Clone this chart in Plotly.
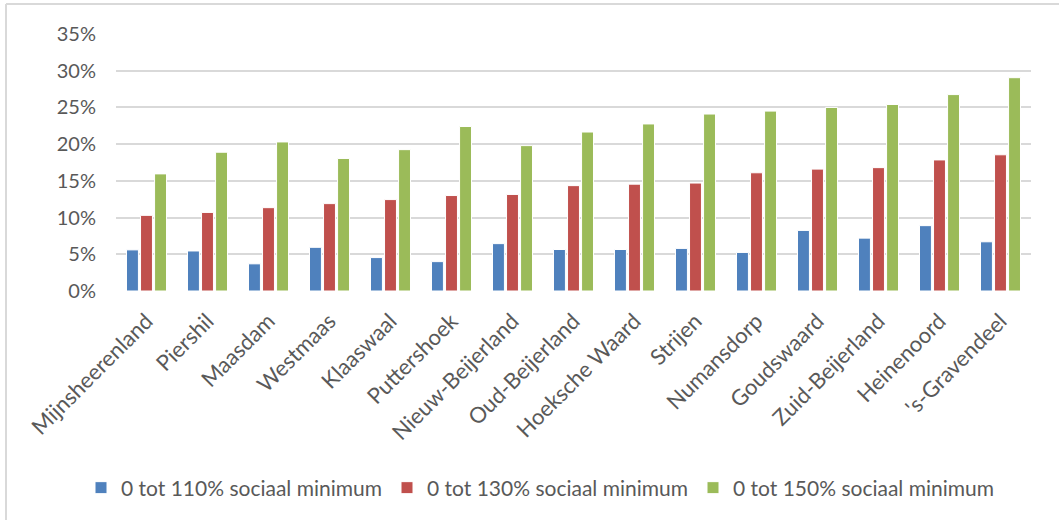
import plotly.graph_objects as go

categories = ["Mijnsheerenland", "Piershil", "Maasdam", "Westmaas", "Klaaswaal",
              "Puttershoek", "Nieuw-Beijerland", "Oud-Beijerland", "Hoeksche Waard",
              "Strijen", "Numansdorp", "Goudswaard", "Zuid-Beijerland", "Heinenoord",
              "'s-Gravendeel"]

s110 = [5.6, 5.45, 3.7, 5.95, 4.55, 4.0, 6.45, 5.65, 5.65, 5.8, 5.25, 8.25, 7.2, 8.9, 6.7]
s130 = [10.3, 10.7, 11.35, 11.9, 12.45, 13.0, 13.15, 14.35, 14.55, 14.7, 16.1, 16.6, 16.8, 17.85, 18.55]
s150 = [15.95, 18.9, 20.3, 18.05, 19.25, 22.4, 19.8, 21.65, 22.75, 24.1, 24.5, 25.0, 25.4, 26.75, 29.05]

series_names = ["0 tot 110% sociaal minimum", "0 tot 130% sociaal minimum", "0 tot 150% sociaal minimum"]
colors = ["#4F81BD", "#C0504D", "#9BBB59"]

fig = go.Figure()
for name, vals, col in zip(series_names, [s110, s130, s150], colors):
    fig.add_trace(go.Bar(
        x=categories, y=[v / 100 for v in vals], name=name,
        marker=dict(color=col, line=dict(color="#FFFFFF", width=1)),
    ))

W, H = 1059, 520
ml, mr, mt, mb = 116, 28, 34, 229
pw = W - ml - mr
ph = H - mt - mb

def px_x(p):
    return (p - ml) / pw

def px_y(p):
    return (H - mb - p) / ph

font_family = "Lato, 'Open Sans', sans-serif"

fig.update_layout(
    width=W, height=H,
    margin=dict(l=ml, r=mr, t=mt, b=mb, autoexpand=False),
    paper_bgcolor="white", plot_bgcolor="white",
    barmode="group", bargap=0.31, bargroupgap=0.15,
    font=dict(family=font_family, color="#595959", size=20),
    showlegend=True,
    legend=dict(orientation="h", x=px_x(540), xanchor="center",
                y=px_y(488), yanchor="middle",
                font=dict(size=21, color="#595959"),
                itemwidth=30, traceorder="normal"),
    xaxis=dict(tickangle=-45, showgrid=False, zeroline=False, showline=False,
               ticks="", ticklabelstandoff=12,
               tickfont=dict(size=22, color="#595959")),
    yaxis=dict(range=[0, 0.35], dtick=0.05, tickformat=".0%",
               showgrid=True, gridcolor="#D9D9D9", gridwidth=2,
               zeroline=False, showline=False, ticks="",
               ticklabelstandoff=19,
               tickfont=dict(size=20, color="#595959")),
    shapes=[
        dict(type="line", xref="paper", yref="paper",
             x0=px_x(6), x1=px_x(1070), y0=px_y(4), y1=px_y(4),
             line=dict(color="#D9D9D9", width=2)),
        dict(type="line", xref="paper", yref="paper",
             x0=px_x(6), x1=px_x(6), y0=px_y(4), y1=px_y(530),
             line=dict(color="#D9D9D9", width=2)),
    ],
)

fig.write_html("out.html",
               config={"displayModeBar": False},
               post_script="document.body.style.margin='0';document.body.style.overflow='hidden';")
